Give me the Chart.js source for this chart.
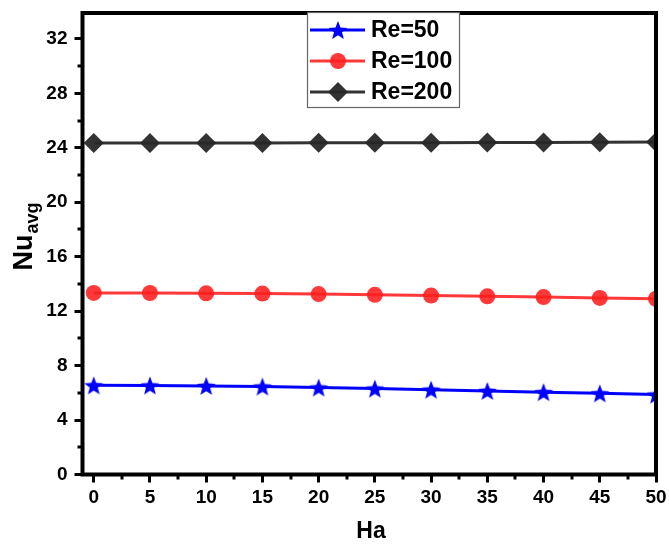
<!DOCTYPE html>
<html>
<head>
<meta charset="utf-8">
<script src="https://cdn.jsdelivr.net/npm/chart.js@4/dist/chart.umd.min.js"></script>
<style>
html,body{margin:0;padding:0;background:#fff;}
#wrap{width:669px;height:549px;position:relative;}
</style>
</head>
<body>
<div id="wrap"><canvas id="c" width="669" height="549"></canvas></div>
<script>
const HA = [0, 5, 10, 15, 20, 25, 30, 35, 40, 45, 50];
const RE50 = [6.55, 6.54, 6.51, 6.46, 6.39, 6.31, 6.23, 6.14, 6.05, 5.96, 5.87];
const RE100 = [13.34, 13.33, 13.31, 13.29, 13.25, 13.2, 13.14, 13.09, 13.03, 12.97, 12.91];
const RE200 = [24.35, 24.35, 24.35, 24.35, 24.36, 24.36, 24.37, 24.38, 24.39, 24.4, 24.42];
const SERIES_LABELS = ['Re=50', 'Re=100', 'Re=200'];
const X_TICKS = [0, 5, 10, 15, 20, 25, 30, 35, 40, 45, 50];
const Y_TICKS = [0, 4, 8, 12, 16, 20, 24, 28, 32];
const X_TITLE = 'Ha';
const Y_TITLE_MAIN = 'Nu';
const Y_TITLE_SUB = 'avg';

const FONT = '"Liberation Sans", Arial, sans-serif';
const COLORS = ['#0000ff', 'rgba(255,30,30,0.88)', 'rgba(40,40,40,0.95)'];

function starPath(ctx, cx, cy, R, r) {
  ctx.beginPath();
  for (let i = 0; i < 10; i++) {
    const rad = i % 2 === 0 ? R : r;
    const a = -Math.PI / 2 + i * Math.PI / 5;
    const px = cx + rad * Math.cos(a), py = cy + rad * Math.sin(a);
    if (i === 0) ctx.moveTo(px, py); else ctx.lineTo(px, py);
  }
  ctx.closePath();
}
function makeStar(R, color) {
  const cv = document.createElement('canvas');
  const s = Math.ceil(2 * R + 2);
  cv.width = s; cv.height = s;
  const c = cv.getContext('2d');
  starPath(c, s / 2, s / 2 + 1, R, R * 0.42);
  c.fillStyle = color; c.fill();
  return cv;
}
const STAR = makeStar(10, COLORS[0]);

function pairs(vals) { return HA.map((x, i) => ({x: x, y: vals[i]})); }

const datasets = [
  {label: SERIES_LABELS[0], data: pairs(RE50), borderColor: COLORS[0], backgroundColor: COLORS[0],
   borderWidth: 3, pointStyle: STAR, pointRadius: 10, clip: 0},
  {label: SERIES_LABELS[1], data: pairs(RE100), borderColor: COLORS[1], backgroundColor: COLORS[1],
   borderWidth: 3, pointStyle: 'circle', pointRadius: 8, pointBorderWidth: 0, clip: 0},
  {label: SERIES_LABELS[2], data: pairs(RE200), borderColor: COLORS[2], backgroundColor: COLORS[2],
   borderWidth: 3, pointStyle: 'rectRot', pointRadius: 10, pointBorderWidth: 0, clip: 0}
];

function zeroPad(s) { s.paddingLeft = 0; s.paddingRight = 0; s.paddingTop = 0; s.paddingBottom = 0; }

const framePlugin = {
  id: 'frame',
  afterDraw(chart) {
    const ctx = chart.ctx, a = chart.chartArea;
    const xs = chart.scales.x, ys = chart.scales.y;
    ctx.save();
    // minor ticks
    ctx.strokeStyle = '#000'; ctx.lineWidth = 3;
    for (let i = 0; i < Y_TICKS.length; i++) {
      const v = Y_TICKS[i] + 2;
      if (v > ys.max) continue;
      const py = Math.round(ys.getPixelForValue(v));
      ctx.beginPath(); ctx.moveTo(a.left - 5, py); ctx.lineTo(a.left, py); ctx.stroke();
    }
    for (let i = 0; i < X_TICKS.length - 1; i++) {
      const v = X_TICKS[i] + 2.5;
      const px = Math.round(xs.getPixelForValue(v));
      ctx.beginPath(); ctx.moveTo(px, a.bottom); ctx.lineTo(px, a.bottom + 5); ctx.stroke();
    }
    // frame
    ctx.lineWidth = 4;
    ctx.strokeRect(a.left, a.top, a.right - a.left, a.bottom - a.top);
    // legend
    const lx = 307, ly = 12, lw = 152, lh = 95;
    ctx.fillStyle = '#fff';
    ctx.fillRect(lx, ly, lw, lh);
    ctx.strokeStyle = '#666'; ctx.lineWidth = 1.2;
    ctx.strokeRect(lx + 0.5, ly + 0.5, lw, lh);
    const rows = [30, 61, 92];
    ctx.font = 'bold 23px ' + FONT;
    ctx.textBaseline = 'middle'; ctx.textAlign = 'left';
    chart.data.datasets.forEach((ds, i) => {
      const y = rows[i];
      ctx.strokeStyle = ds.borderColor; ctx.lineWidth = 3;
      ctx.beginPath(); ctx.moveTo(310, y); ctx.lineTo(365, y); ctx.stroke();
      ctx.fillStyle = ds.backgroundColor;
      if (i === 0) {
        ctx.drawImage(STAR, 338 - STAR.width / 2, y - STAR.height / 2);
      } else if (i === 1) {
        ctx.beginPath(); ctx.arc(338, y, 8, 0, Math.PI * 2); ctx.fill();
      } else {
        ctx.beginPath(); ctx.moveTo(338, y - 10); ctx.lineTo(348, y); ctx.lineTo(338, y + 10); ctx.lineTo(328, y); ctx.closePath(); ctx.fill();
      }
      ctx.fillStyle = '#000';
      ctx.fillText(ds.label, 371, y + 1);
    });
    // axis titles
    ctx.fillStyle = '#000';
    ctx.font = 'bold 23px ' + FONT;
    ctx.textAlign = 'center'; ctx.textBaseline = 'middle';
    ctx.fillText(X_TITLE, 371, 532);
    ctx.translate(25, 237);
    ctx.rotate(-Math.PI / 2);
    ctx.font = 'bold 27px ' + FONT;
    const w1 = ctx.measureText(Y_TITLE_MAIN).width;
    ctx.font = 'bold 18px ' + FONT;
    const w2 = ctx.measureText(Y_TITLE_SUB).width;
    const start = -(w1 + w2) / 2;
    ctx.textAlign = 'left';
    ctx.font = 'bold 27px ' + FONT;
    ctx.fillText(Y_TITLE_MAIN, start, 0);
    ctx.font = 'bold 18px ' + FONT;
    ctx.fillText(Y_TITLE_SUB, start + w1 + 1, 8);
    ctx.restore();
  }
};

new Chart(document.getElementById('c'), {
  type: 'line',
  data: {datasets: datasets},
  options: {
    responsive: false,
    animation: false,
    devicePixelRatio: 1,
    layout: {padding: {left: 0, right: 10.5, top: 10.5, bottom: 0}},
    plugins: {legend: {display: false}, tooltip: {enabled: false}},
    scales: {
      x: {
        type: 'linear', min: -1, max: 50,
        afterBuildTicks: s => { s.ticks = X_TICKS.map(v => ({value: v})); },
        afterFit: s => { s.height = 74.5; zeroPad(s); },
        grid: {display: true, drawOnChartArea: false, drawTicks: true, tickLength: 8, color: '#000', lineWidth: 3},
        border: {display: false},
        ticks: {color: '#000', font: {family: FONT, size: 19, weight: 'bold'}, padding: 4, maxRotation: 0}
      },
      y: {
        type: 'linear', min: 0, max: 33.9,
        afterBuildTicks: s => { s.ticks = Y_TICKS.map(v => ({value: v})); },
        afterFit: s => { s.width = 82.5; zeroPad(s); },
        grid: {display: true, drawOnChartArea: false, drawTicks: true, tickLength: 8, color: '#000', lineWidth: 3},
        border: {display: false},
        ticks: {color: '#000', font: {family: FONT, size: 19, weight: 'bold'}, padding: 7}
      }
    }
  },
  plugins: [framePlugin]
});
</script>
</body>
</html>
